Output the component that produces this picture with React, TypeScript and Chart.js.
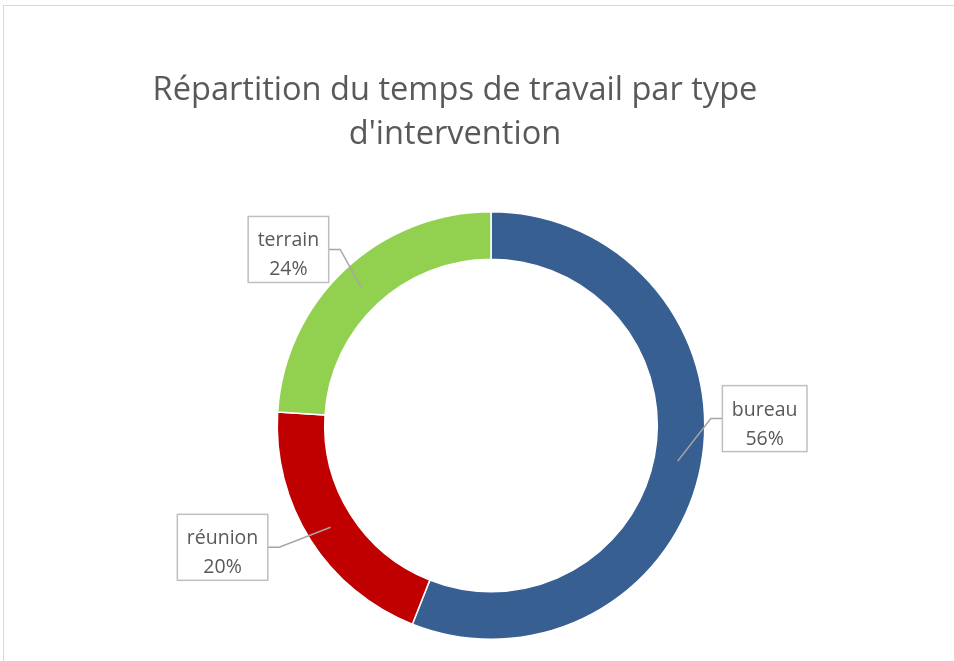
import React, { useEffect, useRef } from "react";
import { Chart, registerables } from "chart.js";

Chart.register(...registerables);

// ---- data ----
const categories = ["bureau", "réunion", "terrain"];
const values = [56, 20, 24];
const percentLabels = ["56%", "20%", "24%"];
const sliceColors = ["#375F92", "#C00000", "#92D050"];
const titleLines = ["Répartition du temps de travail par type", "d'intervention"];

// ---- label placement (offset of box centre from slice centroid) ----
const labelOffsets = [
  { dx: 87, dy: -42.5 },
  { dx: -108, dy: 20 },
  { dx: -72.5, dy: -37.5 },
];

const TEXT_COLOR = "#595959";
const FONT_FAMILY = "'Open Sans', sans-serif";

const titlePlugin = {
  id: "customTitle",
  afterDraw(chart: any) {
    const ctx = chart.ctx;
    ctx.save();
    ctx.fillStyle = TEXT_COLOR;
    ctx.font = `32.6px ${FONT_FAMILY}`;
    ctx.textAlign = "center";
    ctx.textBaseline = "alphabetic";
    titleLines.forEach((line, i) => {
      ctx.fillText(line, 455, 100 + i * 44);
    });
    ctx.restore();
  },
};

const labelPlugin = {
  id: "boxLabels",
  afterDatasetsDraw(chart: any) {
    const ctx = chart.ctx;
    const meta = chart.getDatasetMeta(0);
    ctx.save();
    ctx.font = `19.5px ${FONT_FAMILY}`;
    meta.data.forEach((arc: any, i: number) => {
      const c = arc.getCenterPoint();
      const off = labelOffsets[i];
      const bx = c.x + off.dx;
      const by = c.y + off.dy;
      const lines = [categories[i], percentLabels[i]];
      const tw = Math.max(...lines.map((l) => ctx.measureText(l).width));
      const w = tw + 19;
      const h = 66;
      const left = bx - w / 2;
      const top = by - h / 2;
      // leader line
      const edgeX = c.x > bx ? left + w : left;
      const elbowX = c.x > bx ? edgeX + 11.5 : edgeX - 11.5;
      ctx.strokeStyle = "#A6A6A6";
      ctx.lineWidth = 1.5;
      ctx.beginPath();
      ctx.moveTo(edgeX, by);
      ctx.lineTo(elbowX, by);
      ctx.lineTo(c.x, c.y);
      ctx.stroke();
      // box
      ctx.fillStyle = "#FFFFFF";
      ctx.fillRect(left, top, w, h);
      ctx.strokeStyle = "#BFBFBF";
      ctx.lineWidth = 1.5;
      ctx.strokeRect(left, top, w, h);
      // text
      ctx.fillStyle = TEXT_COLOR;
      ctx.textAlign = "center";
      ctx.textBaseline = "alphabetic";
      ctx.fillText(lines[0], bx, by - 3);
      ctx.fillText(lines[1], bx, by + 26);
    });
    ctx.restore();
  },
};

export default function App() {
  const canvasRef = useRef<HTMLCanvasElement | null>(null);

  useEffect(() => {
    if (!canvasRef.current) return;
    const chart = new Chart(canvasRef.current, {
      type: "doughnut",
      data: {
        labels: categories,
        datasets: [
          {
            data: values,
            backgroundColor: sliceColors,
            borderColor: "#FFFFFF",
            borderWidth: 1.5,
            hoverOffset: 0,
          },
        ],
      },
      options: {
        responsive: false,
        animation: false,
        devicePixelRatio: 1,
        cutout: "77.8%",
        layout: {
          padding: { left: 276.5, right: 248.5, top: 211, bottom: 21 },
        },
        plugins: {
          legend: { display: false },
          tooltip: { enabled: false },
          title: { display: false },
        },
      },
      plugins: [labelPlugin, titlePlugin],
    });
    return () => chart.destroy();
  }, []);

  return (
    <div
      style={{
        position: "fixed",
        left: 0,
        top: 0,
        width: 954,
        height: 661,
        background: "#FFFFFF",
        overflow: "hidden",
      }}
    >
      <div
        style={{
          position: "absolute",
          left: 3,
          top: 5,
          width: 1000,
          height: 700,
          border: "1.5px solid #D9D9D9",
          boxSizing: "border-box",
        }}
      />
      <canvas
        ref={canvasRef}
        width={954}
        height={661}
        style={{ position: "absolute", left: 0, top: 0, display: "block" }}
      />
    </div>
  );
}
